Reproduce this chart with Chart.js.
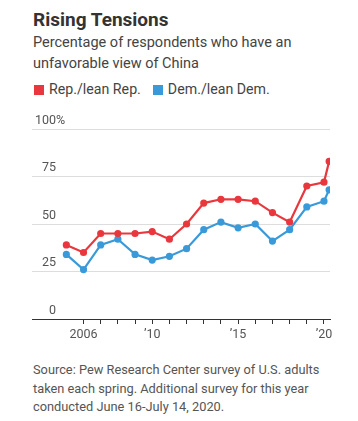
<!DOCTYPE html>
<html>
<head>
<meta charset="utf-8">
<script src="https://cdn.jsdelivr.net/npm/chart.js@4"></script>
<style>
  body { margin: 0; background: #fff; font-family: Roboto, sans-serif; color: #333; }
  #wrap { position: relative; width: 358px; height: 421px; }
  h1 { position: absolute; left: 33px; top: 8px; margin: 0; font-size: 19px; font-weight: bold; color: #333; }
  .sub { position: absolute; left: 33px; top: 32px; font-size: 14.5px; line-height: 21px; color: #444; }
  .legend { position: absolute; left: 34px; top: 81px; font-size: 14.2px; color: #444; }
  .legend span.sw { display: inline-block; width: 10px; height: 10px; margin-right: 5px; vertical-align: -1px; }
  .legend span.it { margin-right: 12px; }
  .src { position: absolute; left: 33px; top: 361px; font-size: 12.8px; line-height: 18.5px; color: #555; }
  #box { position: absolute; left: 0; top: 110px; width: 358px; height: 235px; }
</style>
</head>
<body>
<div id="wrap">
  <h1>Rising Tensions</h1>
  <div class="sub">Percentage of respondents who have an<br>unfavorable view of China</div>
  <div class="legend"><span class="it"><span class="sw" style="background:#e8383d"></span>Rep./lean Rep.</span><span class="it"><span class="sw" style="background:#3a9ad9"></span>Dem./lean Dem.</span></div>
  <div id="box"><canvas id="myChart"></canvas></div>
  <div class="src">Source: Pew Research Center survey of U.S. adults<br>taken each spring. Additional survey for this year<br>conducted June 16-July 14, 2020.</div>
</div>
<script>
const years = [2005, 2006, 2007, 2008, 2009, 2010, 2011, 2012, 2013, 2014, 2015, 2016, 2017, 2018, 2019, 2020, 2020.3];
const repValues = [39, 35, 45, 45, 45, 46, 42, 50, 61, 63, 63, 62, 56, 51, 70, 72, 83];
const demValues = [34, 26, 39, 42, 34, 31, 33, 37, 47, 51, 48, 50, 41, 47, 59, 62, 68];
const yTicks = [0, 25, 50, 75, 100];
const xTicks = [2006, 2007, 2008, 2009, 2010, 2011, 2012, 2013, 2014, 2015, 2016, 2017, 2018, 2019, 2020];
const xLabels = { 2006: '2006', 2010: '\u201910', 2015: '\u201915', 2020: '\u201920' };

function pairs(vals) {
  return vals.map((v, i) => ({ x: years[i], y: v }));
}

// y tick labels sit above the gridlines, WSJ style
const yLabelPlugin = {
  id: 'yLabels',
  afterDraw(chart) {
    const ctx = chart.ctx;
    const y = chart.scales.y;
    ctx.save();
    ctx.font = '12.5px Roboto, sans-serif';
    ctx.fillStyle = '#555';
    ctx.textBaseline = 'bottom';
    yTicks.forEach(t => {
      const py = y.getPixelForValue(t) - 2;
      ctx.textAlign = 'right';
      ctx.fillText(String(t), 56, py);
      if (t === 100) {
        ctx.textAlign = 'left';
        ctx.fillText('%', 56, py);
      }
    });
    ctx.restore();
  }
};

function renderChart() {
  const ctx = document.getElementById('myChart');
  new Chart(ctx, {
    type: 'line',
    data: {
      datasets: [
        {
          label: 'Rep./lean Rep.',
          data: pairs(repValues),
          borderColor: '#e8383d',
          backgroundColor: '#e8383d',
          borderWidth: 2.2,
          pointRadius: 2.5,
          pointHoverRadius: 2.5,
        },
        {
          label: 'Dem./lean Dem.',
          data: pairs(demValues),
          borderColor: '#3a9ad9',
          backgroundColor: '#3a9ad9',
          borderWidth: 2.2,
          pointRadius: 2.5,
          pointHoverRadius: 2.5,
        },
      ],
    },
    options: {
      responsive: true,
      maintainAspectRatio: false,
      animation: false,
      layout: { padding: { left: 32, right: 28, top: 19, bottom: 0 } },
      scales: {
        x: {
          type: 'linear',
          min: 2003,
          max: 2020.35,
          afterBuildTicks: (axis) => { axis.ticks = xTicks.map(v => ({ value: v })); },
          grid: { drawOnChartArea: false, drawTicks: true, tickLength: 5, color: '#333' },
          border: { display: true, color: '#333', width: 1 },
          ticks: {
            autoSkip: false,
            maxRotation: 0,
            padding: 3,
            color: '#555',
            font: { size: 12.5, family: 'Roboto, sans-serif' },
            callback: (v) => xLabels[v] || '',
          },
        },
        y: {
          min: 0,
          max: 100,
          afterBuildTicks: (axis) => { axis.ticks = yTicks.map(v => ({ value: v })); },
          grid: { color: '#dddddd', drawTicks: false },
          border: { display: false },
          ticks: { display: false },
        },
      },
      plugins: {
        legend: { display: false },
        tooltip: { enabled: false },
      },
    },
    plugins: [yLabelPlugin],
  });
}
renderChart();
</script>
</body>
</html>
